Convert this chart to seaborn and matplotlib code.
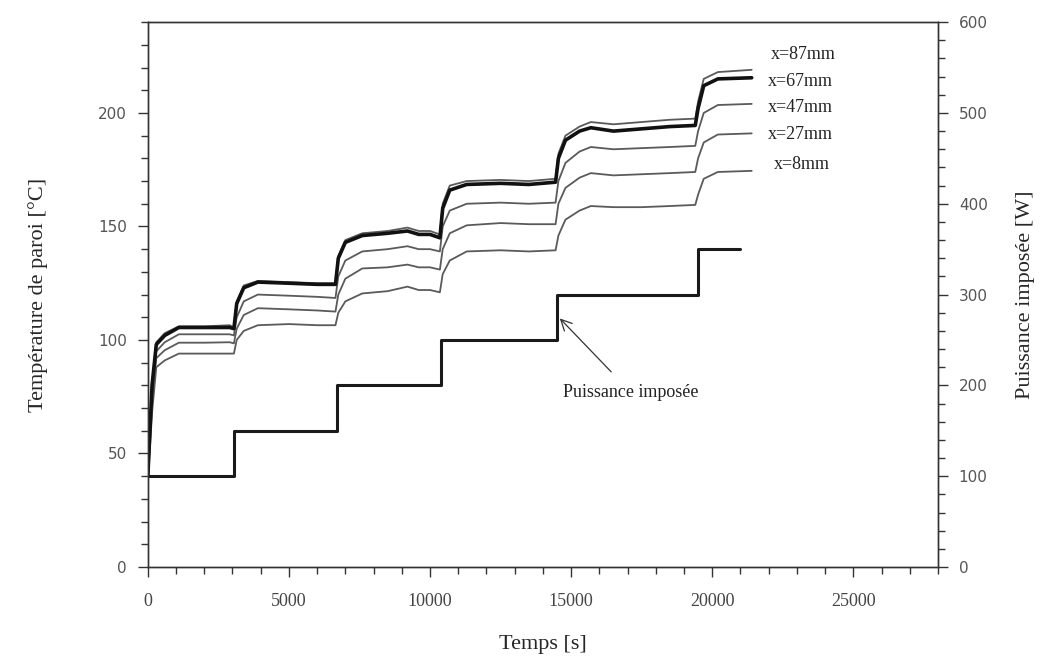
import matplotlib
matplotlib.use("Agg")
import matplotlib.pyplot as plt
from matplotlib.ticker import MultipleLocator
import seaborn as sns
import pandas as pd

# time axis shared by the temperature curves [s]
temps_s = [0, 150, 300, 600, 1100, 2000, 2900, 3050, 3150, 3400, 3900, 5000, 6000, 6650,
           6750, 7000, 7600, 8500, 9200, 9600, 10000, 10350, 10450, 10700, 11300, 12500,
           13500, 14450, 14550, 14800, 15300, 15700, 16500, 17500, 18500, 19400, 19500,
           19700, 20200, 21400]

# wall temperature [°C] per thermocouple position
t_87mm = [40, 80, 99, 103, 106, 106, 106.5, 105.5, 117, 124, 126, 125.5, 125, 125,
          137, 144, 147, 148, 149.5, 148, 148, 146.5, 160, 168, 170, 170.5,
          170, 171, 182, 190, 194, 196, 195, 196, 197, 197.5, 205,
          215, 218, 219]
t_67mm = [40, 80, 98, 102, 105.5, 105.5, 105.5, 105, 116, 123, 125.5, 125, 124.5, 124.5,
          136, 143, 146, 147, 148, 146.5, 146.5, 145, 158, 166, 168.5, 169,
          168.5, 169.5, 180, 188, 192, 193.5, 192, 193, 194, 194.5, 202,
          212, 215, 215.5]
t_47mm = [39, 75, 95, 99, 102.5, 102.5, 102.5, 102, 110, 117, 120, 119.5, 119, 118.5,
          128, 135, 139, 140, 141.3, 140, 140, 139, 150, 157, 160, 160.5,
          160, 160.5, 170, 178, 183, 185, 184, 184.5, 185, 185.5, 192,
          200, 203.5, 204]
t_27mm = [38, 72, 92, 95.5, 98.8, 98.8, 99, 98.5, 105, 111, 114, 113.5, 113, 112.5,
          120, 127, 131.5, 132, 133.2, 132, 132, 131, 140, 147, 150.5, 151.5,
          151, 151, 160, 167, 171.5, 173.5, 172.5, 173, 173.5, 174, 180,
          187, 190.5, 191]
t_8mm = [37, 68, 88, 91, 94, 94, 94, 94, 100, 104, 106.5, 107, 106.5, 106.5,
         112, 117, 120.5, 121.5, 123.5, 122, 122, 121, 129, 135, 139, 139.5,
         139, 139.5, 146, 153, 157, 159, 158.5, 158.5, 159, 159.5, 164,
         171, 174, 174.5]

# imposed power steps [W]
puissance_t = [0, 3050, 6700, 10400, 14500, 19500, 21000]
puissance_w = [100, 150, 200, 250, 300, 350, 350]

series = [
    ("x=87mm", t_87mm),
    ("x=67mm", t_67mm),
    ("x=47mm", t_47mm),
    ("x=27mm", t_27mm),
    ("x=8mm", t_8mm),
]

sns.set_style("white")
plt.rcParams["font.family"] = ["Liberation Serif", "DejaVu Serif"]

fig = plt.figure(figsize=(10.41, 6.71), dpi=100)
ax = fig.add_axes([0.142, 0.155, 0.759, 0.812])

for name, vals in series:
    df = pd.DataFrame({"t": temps_s, "T": vals})
    if name == "x=67mm":
        sns.lineplot(data=df, x="t", y="T", ax=ax, color="#111111", lw=2.6, zorder=3)
    else:
        sns.lineplot(data=df, x="t", y="T", ax=ax, color="#5a5a5a", lw=1.3, zorder=2)

ax2 = ax.twinx()
dfp = pd.DataFrame({"t": puissance_t, "P": puissance_w})
sns.lineplot(data=dfp, x="t", y="P", ax=ax2, color="#1a1a1a", lw=2.2,
             drawstyle="steps-post")

ax.set_xlim(0, 28000)
ax.set_ylim(0, 240)
ax2.set_ylim(0, 600)

ax.xaxis.set_major_locator(MultipleLocator(5000))
ax.xaxis.set_minor_locator(MultipleLocator(1000))
ax.yaxis.set_major_locator(MultipleLocator(50))
ax.yaxis.set_minor_locator(MultipleLocator(10))
ax2.yaxis.set_major_locator(MultipleLocator(100))
ax2.yaxis.set_minor_locator(MultipleLocator(20))

for a in (ax, ax2):
    for s in a.spines.values():
        s.set_color("#333333")
        s.set_linewidth(1.0)
ax.tick_params(axis="both", which="both", direction="out", color="#333333")
ax.tick_params(axis="both", which="major", length=7, width=1)
ax.tick_params(axis="both", which="minor", length=5, width=1)
ax.tick_params(axis="x", which="both", bottom=True)
ax.tick_params(axis="y", which="both", left=True)
ax2.tick_params(axis="y", which="both", direction="out", right=True, color="#333333")
ax2.tick_params(axis="y", which="major", length=7, width=1)
ax2.tick_params(axis="y", which="minor", length=5, width=1)

for lab in ax.get_yticklabels() + ax2.get_yticklabels():
    lab.set_family("DejaVu Sans")
    lab.set_fontsize(11)
    lab.set_color("#555555")
for lab in ax.get_xticklabels():
    lab.set_fontsize(13)
    lab.set_color("#444444")
ax.tick_params(axis="x", pad=12)
ax.tick_params(axis="y", pad=8)
ax2.tick_params(axis="y", pad=8)

ax.set_xlabel("Temps [s]", fontsize=16, labelpad=18)
ax.set_ylabel("Température de paroi [°C]", fontsize=16, labelpad=36)
ax2.set_ylabel("Puissance imposée [W]", fontsize=16, labelpad=20)

# position labels next to the curve ends
lab_pos = [(22090, 225.9), (21980, 214), (21980, 202.5), (21980, 190.6), (22200, 177.3)]
for (name, _), (lx, ly) in zip(series, lab_pos):
    ax.text(lx, ly, name, fontsize=13, color="#222222", va="center", ha="left")

ax.annotate("Puissance imposée", xy=(14600, 109.5), xytext=(17130, 76.8),
            fontsize=13, color="#222222", ha="center", va="center",
            arrowprops=dict(arrowstyle="->,head_length=0.6,head_width=0.3",
                            color="#333333", lw=0.9, shrinkA=9, shrinkB=0))

fig.savefig("out.png", dpi=100)
